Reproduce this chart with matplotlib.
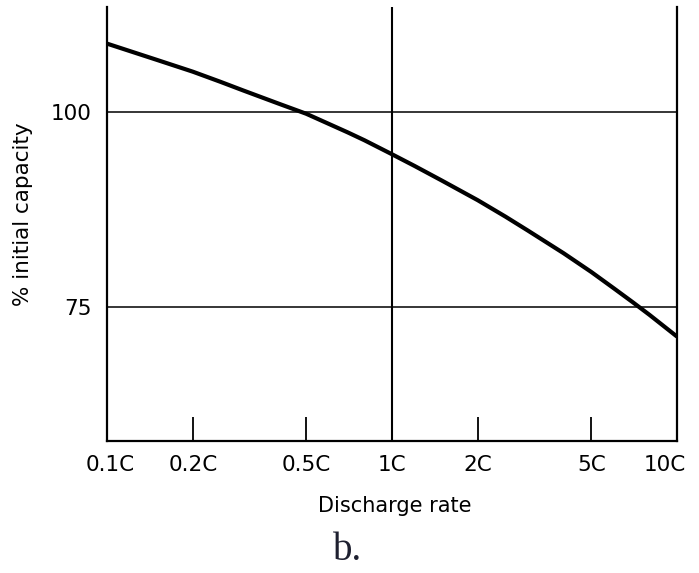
import matplotlib
matplotlib.use("Agg")
import matplotlib.pyplot as plt
import matplotlib.transforms as mtransforms

rates = [0.1, 0.15, 0.2, 0.25, 0.3, 0.4, 0.5, 0.6, 0.7, 0.8, 1.0,
         1.2, 1.5, 2.0, 2.5, 3.0, 4.0, 5.0, 6.0, 7.0, 8.0, 10.0]
capacity = [108.8, 106.7, 105.2, 103.9, 102.8, 101.1, 99.8, 98.5, 97.4, 96.4, 94.6,
            93.1, 91.2, 88.7, 86.6, 84.8, 81.9, 79.5, 77.4, 75.6, 74.0, 71.2]
xticks = [0.1, 0.2, 0.5, 1, 2, 5, 10]
xticklabels = ["0.1C", "0.2C", "0.5C", "1C", "2C", "5C", "10C"]
yticks = [75, 100]
yticklabels = ["75", "100"]

plt.rcParams['font.family'] = ['DejaVu Sans']

fig = plt.figure(figsize=(6.99, 5.73), dpi=100)
ax = fig.add_axes([107/699, 1-441/573, (677-107)/699, (441-7)/573])
ax.set_xscale('log')
ax.set_xlim(0.1, 10)
ax.set_ylim(57.8, 113.5)

ax.plot(rates, capacity, color='black', lw=3.0, solid_capstyle='butt', zorder=3)
for y in yticks:
    ax.axhline(y, color='black', lw=1.1, zorder=2)
ax.axvline(1, color='black', lw=1.5, zorder=2)

ax.spines['top'].set_visible(False)
for s in ['left', 'right', 'bottom']:
    ax.spines[s].set_linewidth(1.6)

ax.set_xticks(xticks)
ax.set_xticklabels(xticklabels, fontsize=15.5)
ax.xaxis.set_minor_locator(matplotlib.ticker.NullLocator())
ax.tick_params(axis='x', direction='in', length=17, width=1.3, pad=10)
ax.set_yticks(yticks)
ax.set_yticklabels(yticklabels, fontsize=15.5)
ax.tick_params(axis='y', length=0, pad=11)

# nudge the last x label inward so it stays inside the figure
lbls = ax.get_xticklabels()
lbls[-1].set_transform(lbls[-1].get_transform() +
                       mtransforms.ScaledTranslation(-12/100, 0, fig.dpi_scale_trans))
lbls[0].set_transform(lbls[0].get_transform() +
                      mtransforms.ScaledTranslation(3/100, 0, fig.dpi_scale_trans))

fig.text(395/699, 1-506/573, "Discharge rate", fontsize=15,
         ha='center', va='center')
fig.text(23/699, 1-214/573, "% initial capacity", fontsize=15.5,
         rotation=90, ha='center', va='center')

fig.text(348/699, 1-550/573, "b.", fontsize=28, family='Liberation Serif',
         color='#1e2030', ha='center', va='center')

fig.savefig("out.png", dpi=100)
